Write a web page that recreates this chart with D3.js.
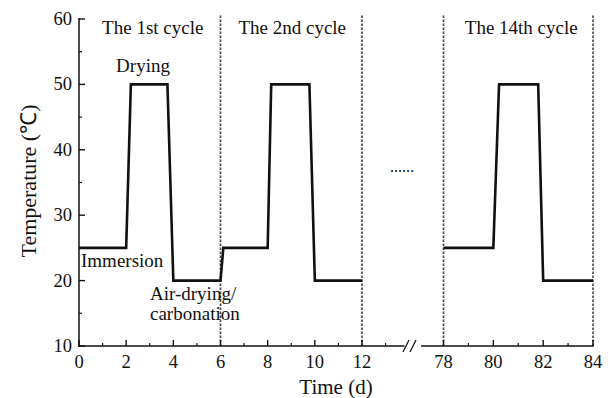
<!DOCTYPE html>
<html>
<head>
<meta charset="utf-8">
<script src="https://cdn.jsdelivr.net/npm/d3@7"></script>
<style>
  body { margin: 0; background: #fff; }
  text { font-family: "Liberation Serif", "Times New Roman", serif; fill: #111; }
</style>
</head>
<body>
<script>
// cycles 1-2 (left part of the broken axis)
const timeEarly = [0, 2, 2.2, 3.75, 4, 6, 6.12, 8, 8.15, 9.77, 10, 12];
const tempEarly = [25, 25, 50, 50, 20, 20, 25, 25, 50, 50, 20, 20];
// cycle 14 (right part)
const timeLate = [78, 80, 80.23, 81.8, 82, 84];
const tempLate = [25, 25, 50, 50, 20, 20];

const yTicks = [10, 20, 30, 40, 50, 60];
const xTicksLeft = [0, 2, 4, 6, 8, 10, 12];
const xTicksRight = [78, 80, 82, 84];
const cycleBounds = [6, 12, 78, 84];
const cycleLabels = ["The 1st cycle", "The 2nd cycle", "The 14th cycle"];

const main = () => {
  const W = 608, H = 398;
  const svg = d3.select("body").append("svg")
    .attr("width", W).attr("height", H);

  const y = d3.scaleLinear().domain([10, 60]).range([346, 19]);
  const xL = d3.scaleLinear().domain([0, 12]).range([79, 362]);
  const xR = d3.scaleLinear().domain([78, 84]).range([443.5, 593]);
  const xAny = t => t < 40 ? xL(t) : xR(t);

  // dashed cycle separators
  svg.selectAll(".sep").data(cycleBounds).enter().append("line")
    .attr("x1", d => xAny(d)).attr("x2", d => xAny(d))
    .attr("y1", 346).attr("y2", 14)
    .attr("stroke", "#444").attr("stroke-width", 1.6)
    .attr("stroke-dasharray", "2.5,1.5");

  // y axis (ticks inward)
  svg.append("line").attr("x1", 79).attr("x2", 79).attr("y1", 18).attr("y2", 347)
    .attr("stroke", "#111").attr("stroke-width", 1.5);
  const yMinor = d3.range(15, 60, 10);
  svg.selectAll(".ymaj").data(yTicks).enter().append("line")
    .attr("x1", 79).attr("x2", 85).attr("y1", d => y(d)).attr("y2", d => y(d))
    .attr("stroke", "#111").attr("stroke-width", 1.4);
  svg.selectAll(".ymin").data(yMinor).enter().append("line")
    .attr("x1", 79).attr("x2", 82).attr("y1", d => y(d)).attr("y2", d => y(d))
    .attr("stroke", "#111").attr("stroke-width", 1.2);
  svg.selectAll(".ylab").data(yTicks).enter().append("text")
    .attr("x", 72).attr("y", d => y(d) + 6)
    .attr("text-anchor", "end").attr("font-size", 18.5)
    .text(d => d);

  // x axis, broken
  svg.append("line").attr("x1", 78.3).attr("x2", xL(13.8)).attr("y1", 346).attr("y2", 346)
    .attr("stroke", "#111").attr("stroke-width", 1.5);
  svg.append("line").attr("x1", xR(77.1)).attr("x2", xR(84) + 0.7).attr("y1", 346).attr("y2", 346)
    .attr("stroke", "#111").attr("stroke-width", 1.5);
  // break marks
  [406, 413].forEach(bx => {
    svg.append("line").attr("x1", bx - 3).attr("x2", bx + 3)
      .attr("y1", 352).attr("y2", 340)
      .attr("stroke", "#111").attr("stroke-width", 1.3);
  });

  const minorL = d3.range(1, 14, 2);
  const minorR = [79, 81, 83];
  const majors = xTicksLeft.map(xL).concat(xTicksRight.map(xR));
  const minors = minorL.map(xL).concat(minorR.map(xR));
  svg.selectAll(".xmaj").data(majors).enter().append("line")
    .attr("x1", d => d).attr("x2", d => d).attr("y1", 346).attr("y2", 340)
    .attr("stroke", "#111").attr("stroke-width", 1.4);
  svg.selectAll(".xmin").data(minors).enter().append("line")
    .attr("x1", d => d).attr("x2", d => d).attr("y1", 346).attr("y2", 343)
    .attr("stroke", "#111").attr("stroke-width", 1.2);
  svg.selectAll(".xlabL").data(xTicksLeft).enter().append("text")
    .attr("x", d => xL(d)).attr("y", 368).attr("text-anchor", "middle")
    .attr("font-size", 18.5).text(d => d);
  svg.selectAll(".xlabR").data(xTicksRight).enter().append("text")
    .attr("x", d => xR(d)).attr("y", 368).attr("text-anchor", "middle")
    .attr("font-size", 18.5).text(d => d);

  // axis titles
  svg.append("text").attr("x", 336).attr("y", 394).attr("text-anchor", "middle")
    .attr("font-size", 21).text("Time (d)");
  svg.append("text").attr("transform", "translate(36,181) rotate(-90)")
    .attr("text-anchor", "middle").attr("font-size", 22)
    .text("Temperature (℃)");

  // temperature curves
  const line = d3.line().x(d => d[0]).y(d => d[1]);
  const early = timeEarly.map((t, i) => [xL(t), y(tempEarly[i])]);
  const late = timeLate.map((t, i) => [xR(t), y(tempLate[i])]);
  [early, late].forEach(pts => {
    svg.append("path").attr("d", line(pts))
      .attr("fill", "none").attr("stroke", "#111")
      .attr("stroke-width", 2.6).attr("stroke-linejoin", "miter");
  });

  // annotations
  const cycleX = [(xL(0) + xL(6)) / 2 + 3, (xL(6) + xL(12)) / 2 + 1, (xR(78) + xR(84)) / 2 + 3];
  svg.selectAll(".cyc").data(cycleLabels).enter().append("text")
    .attr("x", (d, i) => cycleX[i]).attr("y", 34)
    .attr("text-anchor", "middle").attr("font-size", 19)
    .text(d => d);
  svg.append("text").attr("x", 143).attr("y", 72).attr("text-anchor", "middle")
    .attr("font-size", 19).text("Drying");
  svg.append("text").attr("x", 81).attr("y", 267)
    .attr("font-size", 19).text("Immersion");
  svg.append("text").attr("x", 150).attr("y", 300)
    .attr("font-size", 19).text("Air-drying/");
  svg.append("text").attr("x", 150).attr("y", 320)
    .attr("font-size", 19).text("carbonation");
  svg.append("text").attr("x", 402).attr("y", 172).attr("text-anchor", "middle")
    .attr("font-size", 16).attr("fill", "#444").text("......");
};

window.onload = main;
</script>
</body>
</html>
